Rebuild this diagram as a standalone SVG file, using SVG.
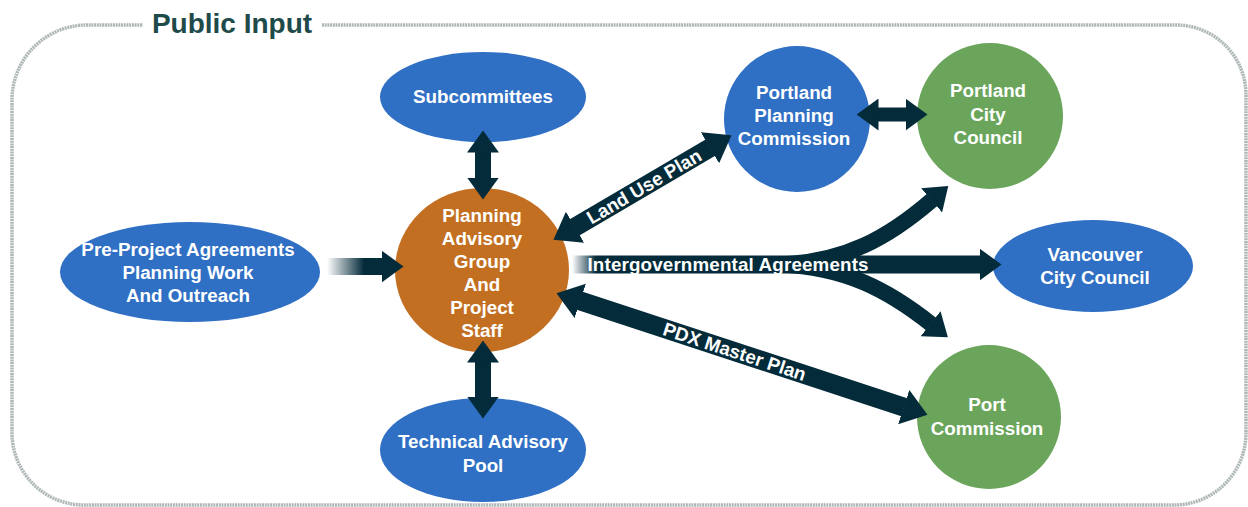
<svg xmlns="http://www.w3.org/2000/svg" width="1248" height="507" viewBox="0 0 1248 507">
<style>
.lbl{font-family:"Liberation Sans",Arial,sans-serif;font-weight:bold;font-size:18.8px;fill:#ffffff;text-anchor:middle}
.blue{fill:#2f6fc4}
.green{fill:#6aa55b}
.orange{fill:#c36f22}
.conn{fill:none;stroke:#042b3a;stroke-linecap:butt}
</style>
<defs>
<marker id="ah" viewBox="0 -16 22 32" refX="0.5" refY="0" markerWidth="22" markerHeight="32" markerUnits="userSpaceOnUse" orient="auto-start-reverse">
<path d="M0,-16 L22,0 L0,16 Z" fill="#042b3a"/>
</marker>
<marker id="ahL" viewBox="0 -18 25 36" refX="0.5" refY="0" markerWidth="25" markerHeight="36" markerUnits="userSpaceOnUse" orient="auto-start-reverse">
<path d="M0,-18 L25,0 L0,18 Z" fill="#042b3a"/>
</marker>
<linearGradient id="gLeft" gradientUnits="userSpaceOnUse" x1="327" y1="0" x2="364" y2="0">
<stop offset="0" stop-color="#042b3a" stop-opacity="0"/>
<stop offset="1" stop-color="#042b3a" stop-opacity="1"/>
</linearGradient>
<linearGradient id="gRight" gradientUnits="userSpaceOnUse" x1="572" y1="0" x2="596" y2="0">
<stop offset="0" stop-color="#042b3a" stop-opacity="0"/>
<stop offset="1" stop-color="#042b3a" stop-opacity="1"/>
</linearGradient>
</defs>

<g id="frame">
<path d="M322 25 H1176 A70 70 0 0 1 1246 95 V433 A72 72 0 0 1 1174 505 H84 A72 72 0 0 1 12 433 V100 A75 75 0 0 1 87 25 H143" fill="none" stroke="#aeb7b7" stroke-width="3.5" stroke-dasharray="2 0.7"/>
<text x="232" y="33" style="font-family:'Liberation Sans',Arial,sans-serif;font-weight:bold;font-size:28px;fill:#1e4a4a;text-anchor:middle">Public Input</text>
</g>

<g id="n-subcommittees">
<ellipse class="blue" cx="483" cy="97" rx="103" ry="45"/>
<text class="lbl" x="483" y="103">Subcommittees</text>
</g>

<g id="n-preproject">
<ellipse class="blue" cx="190" cy="272" rx="130" ry="50"/>
<text class="lbl" x="188" y="255.5">Pre-Project Agreements</text>
<text class="lbl" x="188" y="278.5">Planning Work</text>
<text class="lbl" x="188" y="301.5">And Outreach</text>
</g>

<g id="n-pag">
<ellipse class="orange" cx="482" cy="270" rx="87" ry="82"/>
<text class="lbl" x="482" y="222">Planning</text>
<text class="lbl" x="482" y="245">Advisory</text>
<text class="lbl" x="482" y="268">Group</text>
<text class="lbl" x="482" y="291">And</text>
<text class="lbl" x="482" y="314">Project</text>
<text class="lbl" x="482" y="337">Staff</text>
</g>

<g id="n-technical">
<ellipse class="blue" cx="483" cy="450" rx="103" ry="52"/>
<text class="lbl" x="483" y="447.5">Technical Advisory</text>
<text class="lbl" x="483" y="471.5">Pool</text>
</g>

<g id="n-ppc">
<circle class="blue" cx="797" cy="119" r="73"/>
<text class="lbl" x="794" y="98.5">Portland</text>
<text class="lbl" x="794" y="121.5">Planning</text>
<text class="lbl" x="794" y="144.5">Commission</text>
</g>

<g id="n-pcc">
<circle class="green" cx="990" cy="116" r="73"/>
<text class="lbl" x="988" y="96.5">Portland</text>
<text class="lbl" x="988" y="120.5">City</text>
<text class="lbl" x="988" y="143.5">Council</text>
</g>

<g id="n-vancouver">
<ellipse class="blue" cx="1093" cy="266" rx="100" ry="46"/>
<text class="lbl" x="1095" y="260.5">Vancouver</text>
<text class="lbl" x="1095" y="283.5">City Council</text>
</g>

<g id="n-port">
<circle class="green" cx="989" cy="417" r="72"/>
<text class="lbl" x="987" y="410.5">Port</text>
<text class="lbl" x="987" y="434.5">Commission</text>
</g>

<g id="connectors">
<path class="conn" d="M483 152 V178" stroke-width="16" marker-start="url(#ah)" marker-end="url(#ah)"/>
<path class="conn" d="M483 362 V397" stroke-width="16" marker-start="url(#ah)" marker-end="url(#ah)"/>
<path class="conn" d="M878 114.5 H906" stroke-width="14" marker-start="url(#ah)" marker-end="url(#ah)"/>
<path d="M327 266.5 H382" fill="none" stroke="url(#gLeft)" stroke-width="17" marker-end="url(#ah)"/>
<path class="conn" d="M780 264.5 C845 262,888 238,932 200" stroke-width="16" marker-end="url(#ah)"/>
<path class="conn" d="M780 264.5 C845 267,888 290,931 324" stroke-width="16" marker-end="url(#ah)"/>
<path d="M572 264.5 H980" fill="none" stroke="url(#gRight)" stroke-width="18" marker-end="url(#ah)"/>
<text class="lbl" x="728" y="271" textLength="281" lengthAdjust="spacing">Intergovernmental Agreements</text>
<path class="conn" d="M574.6 227.4 L710.4 147.6" stroke-width="19" marker-start="url(#ahL)" marker-end="url(#ahL)"/>
<text class="lbl" transform="translate(644,186.5) rotate(-30.4)" x="0" y="6.5">Land Use Plan</text>
<path class="conn" d="M579.8 300.8 L904.2 407.2" stroke-width="19" marker-start="url(#ahL)" marker-end="url(#ahL)"/>
<text class="lbl" transform="translate(734.6,351.6) rotate(18.16)" x="0" y="6.5">PDX Master Plan</text>
</g>
</svg>
